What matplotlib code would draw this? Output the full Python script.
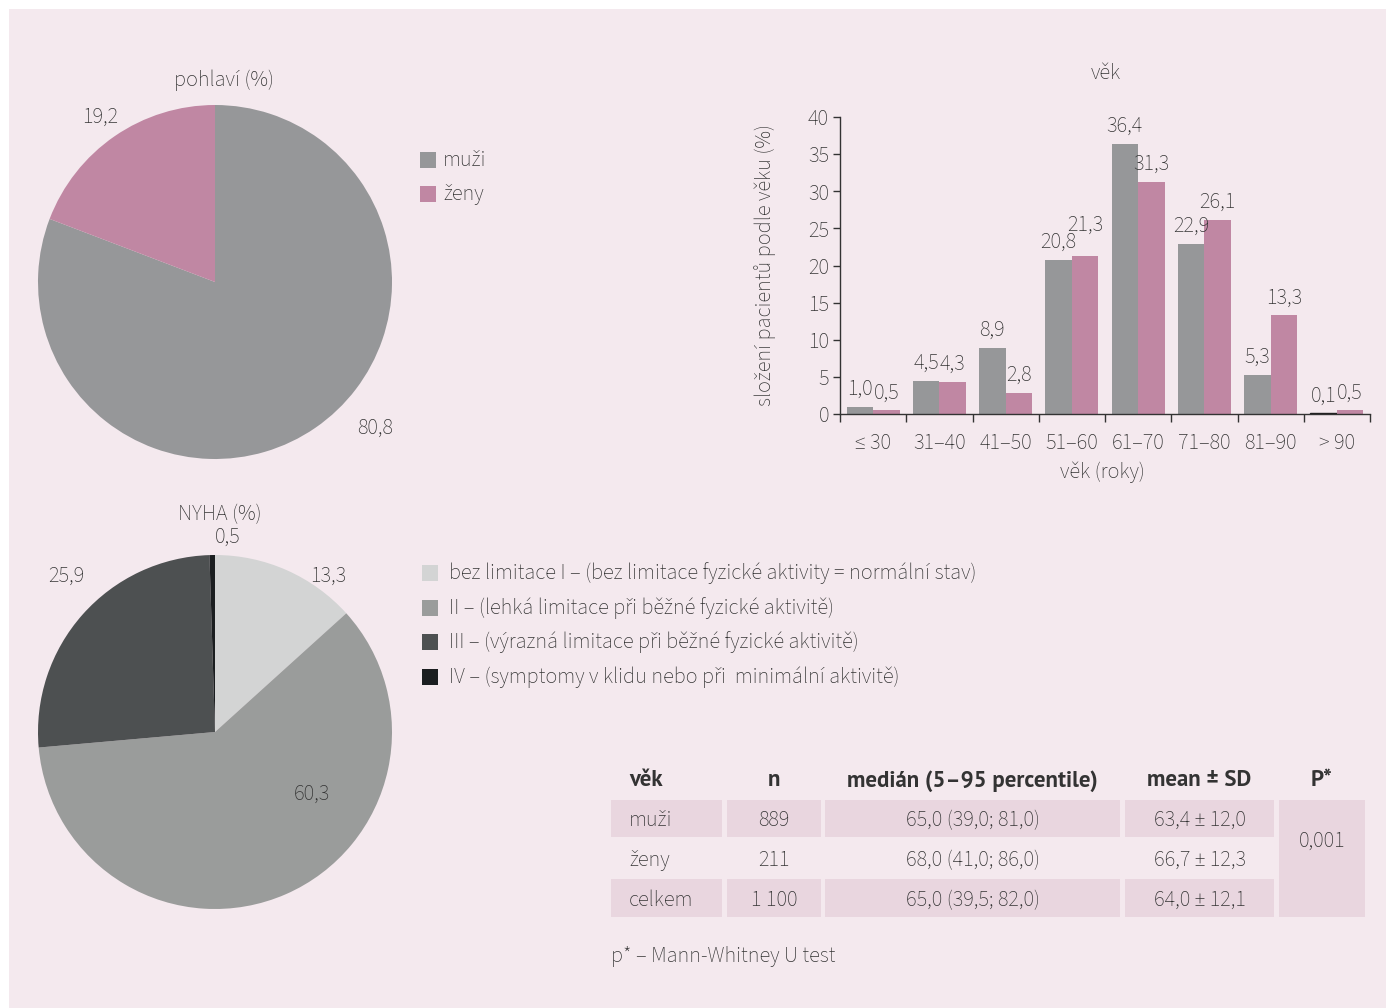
import matplotlib
matplotlib.use('Agg')
import matplotlib.pyplot as plt
from matplotlib.patches import Rectangle
import numpy as np

W, H = 1386, 1008
plt.rcParams['font.family'] = ['Source Sans 3', 'DejaVu Sans']
plt.rcParams['font.weight'] = 'light'
plt.rcParams['font.size'] = 16
TXT = '#333333'
plt.rcParams['text.color'] = TXT
BOLD = dict(family=['PT Sans', 'DejaVu Sans'], fontweight='bold', fontsize=16.5)

# ---------------- data ----------------
sex_title = 'pohlaví (%)'
sex_labels = ['muži', 'ženy']
sex_values = [80.8, 19.2]
sex_colors = ['#969799', '#c087a3']

age_title = 'věk'
age_xlabel = 'věk (roky)'
age_ylabel = 'složení pacientů podle věku (%)'
age_groups = ['≤ 30', '31–40', '41–50', '51–60', '61–70', '71–80', '81–90', '> 90']
age_men = [1.0, 4.5, 8.9, 20.8, 36.4, 22.9, 5.3, 0.1]
age_women = [0.5, 4.3, 2.8, 21.3, 31.3, 26.1, 13.3, 0.5]
age_yticks = [0, 5, 10, 15, 20, 25, 30, 35, 40]

nyha_title = 'NYHA (%)'
nyha_labels = ['bez limitace I – (bez limitace fyzické aktivity = normální stav)',
               'II – (lehká limitace při běžné fyzické aktivitě)',
               'III – (výrazná limitace při běžné fyzické aktivitě)',
               'IV – (symptomy v klidu nebo při  minimální aktivitě)']
nyha_values = [13.3, 60.3, 25.9, 0.5]
nyha_colors = ['#d3d4d4', '#9a9c9b', '#4d5051', '#1b1e20']

table_header = ['věk', 'n', 'medián (5–95 percentile)', 'mean ± SD', 'P*']
table_groups = ['muži', 'ženy', 'celkem']
table_n = ['889', '211', '1 100']
table_median = ['65,0 (39,0; 81,0)', '68,0 (41,0; 86,0)', '65,0 (39,5; 82,0)']
table_mean = ['63,4 ± 12,0', '66,7 ± 12,3', '64,0 ± 12,1']
table_p = '0,001'
footnote = 'p* – Mann-Whitney U test'


def fmt(v):
    return f'{v:.1f}'.replace('.', ',')


fig = plt.figure(figsize=(W / 100, H / 100), dpi=100, facecolor='white')

# background / overlay axes in pixel coordinates
bg = fig.add_axes([0, 0, 1, 1], zorder=0)
bg.set_xlim(0, W)
bg.set_ylim(H, 0)
bg.axis('off')
bg.add_patch(Rectangle((9, 9), W - 9, H - 9, color='#f4e9ee', lw=0))


def pie_axes(cx, cy, r):
    ax = fig.add_axes([(cx - r) / W, 1 - (cy + r) / H, 2 * r / W, 2 * r / H], zorder=1)
    ax.set_facecolor('none')
    return ax


# ---------------- sex pie ----------------
ax1 = pie_axes(215, 282, 177)
ax1.pie(sex_values, colors=sex_colors, startangle=90, counterclock=False,
        wedgeprops=dict(linewidth=0))
ax1.set_xlim(-1, 1)
ax1.set_ylim(-1, 1)
ax1.axis('off')
ax1.text(0.05, 1.14, sex_title, ha='center', va='center', clip_on=False)
sex_label_pos = [(0.905, -0.825), (-0.65, 0.93)]
for v, (lx, ly) in zip(sex_values, sex_label_pos):
    ax1.text(lx, ly, fmt(v), ha='center', va='center', clip_on=False)

# sex legend
for i, (lab, col) in enumerate(zip(sex_labels, sex_colors)):
    y = 160 + i * 34
    bg.add_patch(Rectangle((420, y - 8), 16, 16, color=col, lw=0))
    bg.text(443, y, lab, ha='left', va='center')

# ---------------- age bar chart ----------------
L, R, B, T = 840, 1370, 414, 117
ax2 = fig.add_axes([L / W, 1 - B / H, (R - L) / W, (B - T) / H], zorder=1)
ax2.set_facecolor('none')
x = np.arange(len(age_groups))
bw = 0.4
men_colors = [sex_colors[0]] * (len(age_men) - 1) + ['#1e1e1e']
ax2.bar(x - bw / 2, age_men, bw, color=men_colors,
        edgecolor=['none'] * (len(age_men) - 1) + ['#1e1e1e'], linewidth=1)
ax2.bar(x + bw / 2, age_women, bw, color=sex_colors[1])
men_ann, women_ann = [], []
for xi, v in zip(x - bw / 2, age_men):
    men_ann.append(ax2.annotate(fmt(v), (xi, v), xytext=(0, 5), textcoords='offset points',
                                ha='center', va='bottom'))
for xi, v in zip(x + bw / 2, age_women):
    women_ann.append(ax2.annotate(fmt(v), (xi, v), xytext=(0, 5), textcoords='offset points',
                                  ha='center', va='bottom'))
ax2.set_xlim(-0.5, len(age_groups) - 0.5)
ax2.set_ylim(0, 40)
ax2.set_yticks(age_yticks)
ax2.set_yticklabels([str(t) for t in age_yticks])
ax2.set_xticks(np.arange(-0.5, len(age_groups), 1))
ax2.set_xticklabels([])
ax2.set_xticks(x, minor=True)
ax2.set_xticklabels(age_groups, minor=True)
ax2.tick_params(axis='x', which='major', direction='out', length=6, width=1, color=TXT)
ax2.tick_params(axis='x', which='minor', length=0, pad=13.5, labelcolor=TXT)
ax2.tick_params(axis='y', direction='out', length=5, width=1, color=TXT, pad=3, labelcolor=TXT)
for s in ['top', 'right']:
    ax2.spines[s].set_visible(False)
for s in ['left', 'bottom']:
    ax2.spines[s].set_color(TXT)
    ax2.spines[s].set_linewidth(1)
ax2.text((1106 - L) / (R - L), (B - 73) / (B - T), age_title, transform=ax2.transAxes,
         ha='center', va='center')
ax2.text((1102 - L) / (R - L), (B - 472) / (B - T), age_xlabel, transform=ax2.transAxes,
         ha='center', va='center')
ax2.text((765 - L) / (R - L), 0.5, age_ylabel, transform=ax2.transAxes,
         ha='center', va='center', rotation=90)

# lift a bar label that collides with its neighbour in the same group
renderer = fig.canvas.get_renderer()
for am, aw, vm, vw in zip(men_ann, women_ann, age_men, age_women):
    bm = am.get_window_extent(renderer)
    bw_ = aw.get_window_extent(renderer)
    hov = min(bm.x1, bw_.x1) - max(bm.x0, bw_.x0)
    vov = min(bm.y1, bw_.y1) - max(bm.y0, bw_.y0)
    if hov > 2 and vov > 0:
        hi, lo = (aw, bm) if vw >= vm else (am, bw_)
        hb = hi.get_window_extent(renderer)
        lift = (lo.y1 - hb.y0) * 72 / fig.dpi - 3
        ox, oy = hi.xyann
        hi.xyann = (ox, oy + lift)

# ---------------- NYHA pie ----------------
ax3 = pie_axes(215, 732, 177)
ax3.pie(nyha_values, colors=nyha_colors, startangle=90, counterclock=False,
        wedgeprops=dict(linewidth=0))
ax3.set_xlim(-1, 1)
ax3.set_ylim(-1, 1)
ax3.axis('off')
ax3.text(0.03, 1.23, nyha_title, ha='center', va='center', clip_on=False)
nyha_label_pos = [(0.64, 0.88), (0.55, -0.35), (-0.84, 0.88), (0.07, 1.10)]
for v, (lx, ly) in zip(nyha_values, nyha_label_pos):
    ax3.text(lx, ly, fmt(v), ha='center', va='center', clip_on=False)

# NYHA legend
for i, (lab, col) in enumerate(zip(nyha_labels, nyha_colors)):
    y = 573 + i * 34.7
    bg.add_patch(Rectangle((422, y - 8), 16, 16, color=col, lw=0))
    bg.text(449, y, lab, ha='left', va='center')

# ---------------- table ----------------
cell_col = '#e9d6df'
col_edges = [(611, 722), (727, 821), (825, 1120), (1125, 1274), (1279, 1365)]
row_edges = [(799, 838), (838, 878), (878, 918)]
shaded_rows = [0, 2]
header_y = 781
for j, (lab, (x0, x1)) in enumerate(zip(table_header, col_edges)):
    if j == 0:
        bg.text(629, header_y, lab, ha='left', va='center', **BOLD)
    else:
        bg.text((x0 + x1) / 2, header_y, lab, ha='center', va='center', **BOLD)
for i, (g, n, med, mean) in enumerate(zip(table_groups, table_n, table_median, table_mean)):
    y0, y1 = row_edges[i]
    yc = (y0 + y1) / 2 + 2
    if i in shaded_rows:
        for (x0, x1) in col_edges[:4]:
            bg.add_patch(Rectangle((x0, y0 + 1), x1 - x0, y1 - y0 - 2, color=cell_col, lw=0))
    vals = [g, n, med, mean]
    for j, val in enumerate(vals):
        x0, x1 = col_edges[j]
        if j == 0:
            bg.text(629, yc, val, ha='left', va='center')
        else:
            bg.text((x0 + x1) / 2, yc, val, ha='center', va='center')
px0, px1 = col_edges[4]
bg.add_patch(Rectangle((px0, row_edges[0][0] + 1), px1 - px0,
                       row_edges[-1][1] - row_edges[0][0] - 2, color=cell_col, lw=0))
bg.text((px0 + px1) / 2, 841, table_p, ha='center', va='center')
bg.text(611, 956, footnote, ha='left', va='center')

fig.savefig('out.png', dpi=100, facecolor='white')
